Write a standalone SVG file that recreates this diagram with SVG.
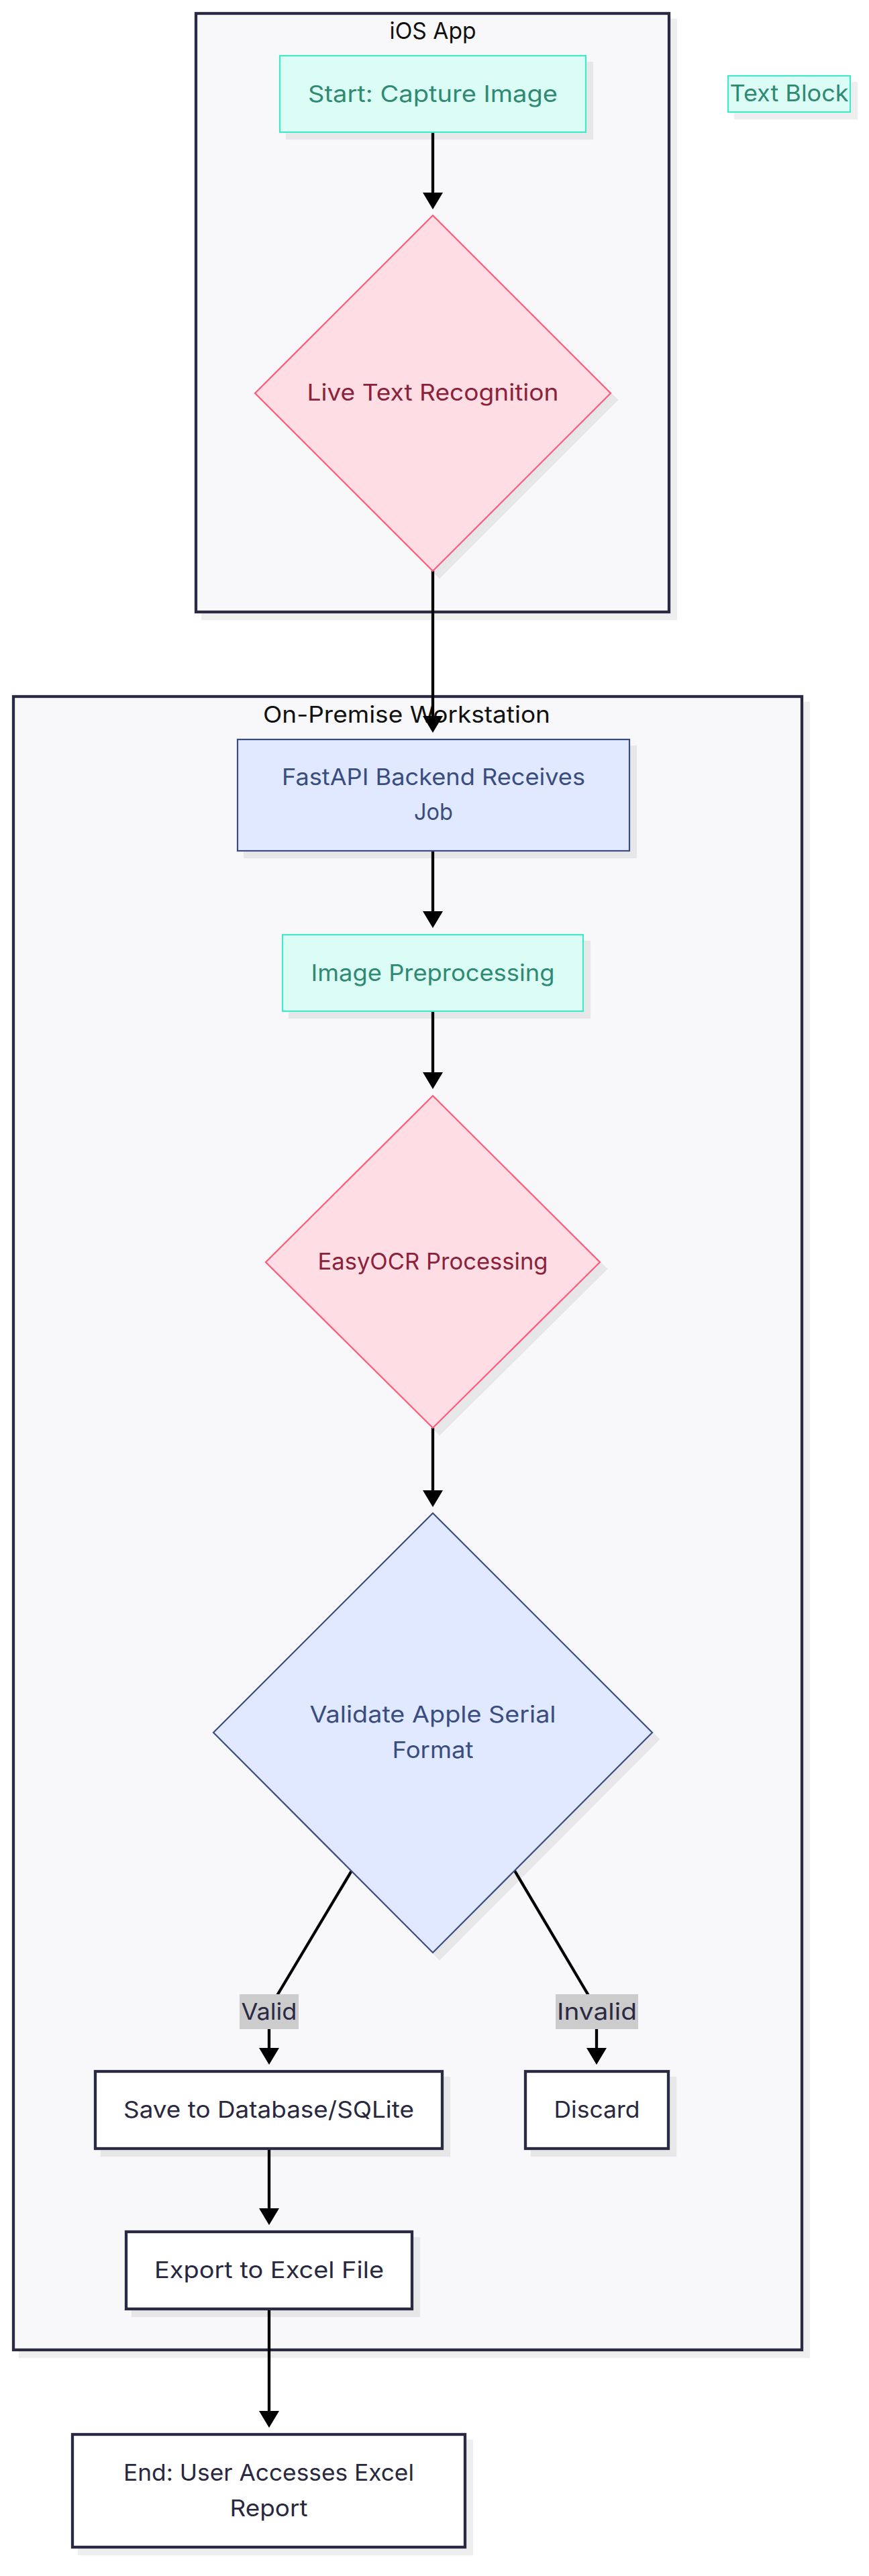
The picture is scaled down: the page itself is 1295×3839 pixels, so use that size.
<svg xmlns="http://www.w3.org/2000/svg" width="1295" height="3839" viewBox="0 0 1295 3839">
<style>
text{font-family:Inter,"Noto Sans","Liberation Sans",sans-serif;font-size:34px;text-anchor:middle}
.cl{fill:#f8f8fa;stroke:#2a2a42;stroke-width:4.3}
.cll{fill:#111}
.mint{fill:#dcfdf5;stroke:#45e8c6;stroke-width:2.2}
.mintt{fill:#2f8a73}
.pink{fill:#ffdde4;stroke:#ff5a78;stroke-width:2.2}
.pinkt{fill:#8b2239}
.blue{fill:#e0e9ff;stroke:#3b4e80;stroke-width:2.2}
.bluet{fill:#3a4d7f}
.dark{fill:#ffffff;stroke:#2a2a42;stroke-width:4.3}
.darkt{fill:#282840}
.edge{fill:none;stroke:#000;stroke-width:4.3;marker-end:url(#arrow)}
.elbg{fill:#cccccc}
.elt{fill:#2a2a45}
</style>
<defs>
<filter id="sh" filterUnits="userSpaceOnUse" x="0" y="0" width="1295" height="3839">
<feDropShadow dx="10" dy="10" stdDeviation="0" flood-color="#000" flood-opacity="0.067"/>
</filter>
<marker id="arrow" markerUnits="userSpaceOnUse" viewBox="0 0 26 30" markerWidth="26" markerHeight="30" refX="5" refY="15" orient="auto">
<path d="M0,0 L25,15 L0,30 z" fill="#000"/>
</marker>
</defs>
<rect x="0" y="0" width="1295" height="3839" fill="#ffffff"/>

<g id="clusters">
<g id="cluster-ios">
<rect class="cl" x="292" y="20" width="705" height="892" filter="url(#sh)"/>
<text class="cll" x="645" y="58" textLength="129" lengthAdjust="spacingAndGlyphs">iOS App</text>
</g>
<g id="cluster-onprem">
<rect class="cl" x="20" y="1038" width="1175" height="2464" filter="url(#sh)"/>
<text class="cll" x="606" y="1077" textLength="428" lengthAdjust="spacingAndGlyphs">On-Premise Workstation</text>
</g>
</g>

<g id="connectors">
<path class="edge" d="M645,197 L645,292"/>
<path class="edge" d="M645,850 L645,1072"/>
<path class="edge" d="M645,1268 L645,1363"/>
<path class="edge" d="M645,1507 L645,1603"/>
<path class="edge" d="M645,2128 L645,2226"/>
<path class="edge" d="M524,2788 L414,2972 Q401,2994 401,3020 L401,3057"/>
<path class="edge" d="M767,2788 L876,2972 Q889,2994 889,3020 L889,3057"/>
<path class="edge" d="M401,3202 L401,3296"/>
<path class="edge" d="M401,3441 L401,3598"/>
<g id="label-valid">
<rect class="elbg" x="357" y="2972" width="88" height="52"/>
<text class="elt" x="401" y="3010" textLength="83" lengthAdjust="spacingAndGlyphs">Valid</text>
</g>
<g id="label-invalid">
<rect class="elbg" x="828" y="2972" width="123" height="52"/>
<text class="elt" x="889.5" y="3010" textLength="119" lengthAdjust="spacingAndGlyphs">Invalid</text>
</g>
</g>

<g id="nodes">
<g id="start">
<rect class="mint" x="417" y="83" width="456" height="114" filter="url(#sh)"/>
<text class="mintt" x="645" y="152" textLength="372" lengthAdjust="spacingAndGlyphs">Start: Capture Image</text>
</g>
<g id="textblock">
<rect class="mint" x="1085" y="113" width="182" height="54" filter="url(#sh)"/>
<text class="mintt" x="1176" y="151" textLength="177" lengthAdjust="spacingAndGlyphs">Text Block</text>
</g>
<g id="livetext">
<polygon class="pink" points="645,321 910,586 645,851 380,586" filter="url(#sh)"/>
<text class="pinkt" x="645" y="597" textLength="375" lengthAdjust="spacingAndGlyphs">Live Text Recognition</text>
</g>
<g id="fastapi">
<rect class="blue" x="354" y="1102" width="584" height="166" filter="url(#sh)"/>
<text class="bluet" x="646" y="1170" textLength="452" lengthAdjust="spacingAndGlyphs">FastAPI Backend Receives</text>
<text class="bluet" x="646" y="1222" textLength="58" lengthAdjust="spacingAndGlyphs">Job</text>
</g>
<g id="preprocess">
<rect class="mint" x="421" y="1393" width="448" height="114" filter="url(#sh)"/>
<text class="mintt" x="645" y="1462" textLength="363" lengthAdjust="spacingAndGlyphs">Image Preprocessing</text>
</g>
<g id="easyocr">
<polygon class="pink" points="645,1633 894,1881 645,2128 396,1881" filter="url(#sh)"/>
<text class="pinkt" x="645" y="1892" textLength="343" lengthAdjust="spacingAndGlyphs">EasyOCR Processing</text>
</g>
<g id="validate">
<polygon class="blue" points="645,2255 972,2582 645,2910 318,2582" filter="url(#sh)"/>
<text class="bluet" x="645" y="2567" textLength="367" lengthAdjust="spacingAndGlyphs">Validate Apple Serial</text>
<text class="bluet" x="645" y="2620" textLength="121" lengthAdjust="spacingAndGlyphs">Format</text>
</g>
<g id="save">
<rect class="dark" x="142" y="3087" width="517" height="115" filter="url(#sh)"/>
<text class="darkt" x="400.5" y="3156" textLength="433" lengthAdjust="spacingAndGlyphs">Save to Database/SQLite</text>
</g>
<g id="discard">
<rect class="dark" x="783" y="3087" width="213" height="115" filter="url(#sh)"/>
<text class="darkt" x="889.5" y="3156" textLength="128" lengthAdjust="spacingAndGlyphs">Discard</text>
</g>
<g id="export">
<rect class="dark" x="188" y="3326" width="426" height="115" filter="url(#sh)"/>
<text class="darkt" x="401" y="3395" textLength="342" lengthAdjust="spacingAndGlyphs">Export to Excel File</text>
</g>
<g id="end">
<rect class="dark" x="108" y="3628" width="585" height="168" filter="url(#sh)"/>
<text class="darkt" x="400.5" y="3697" textLength="433" lengthAdjust="spacingAndGlyphs">End: User Accesses Excel</text>
<text class="darkt" x="400.5" y="3750" textLength="116" lengthAdjust="spacingAndGlyphs">Report</text>
</g>
</g>
</svg>
